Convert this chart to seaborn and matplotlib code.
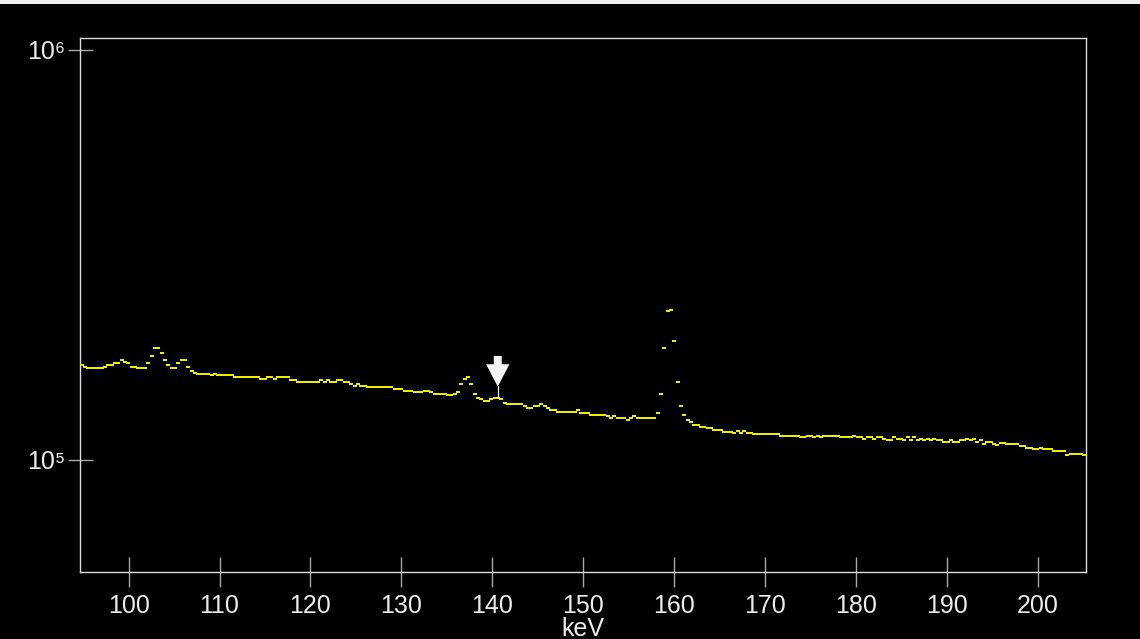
import numpy as np
import pandas as pd
import matplotlib
matplotlib.use("Agg")
import matplotlib.pyplot as plt
import matplotlib.transforms as mtransforms
from matplotlib.patches import Polygon, Rectangle
from matplotlib.ticker import NullLocator
import seaborn as sns

# ---------------- data ----------------
energy_start = 94.83     # keV, centre of first channel
energy_step = 0.3663     # keV per channel

counts = [
    170200, 168600, 167600, 167600, 167600, 167600, 167600, 168600, 170200, 170200,
    171800, 171800, 174800, 173100, 171800, 168600, 168600, 167600, 167600, 167600,
    171800, 179300, 187000, 187000, 182000, 174800, 170200, 167600, 167600, 171800,
    174800, 174800, 168600, 164300, 163000, 161600, 161600, 161600, 161600, 160600,
    161800, 160600, 160600, 160600, 160800, 160800, 159100, 159100, 159100, 159100,
    159100, 159100, 159100, 159100, 157600, 157600, 159100, 159100, 157600, 159100,
    159400, 159400, 159400, 156500, 156500, 155000, 155000, 155000, 155000, 155000,
    155000, 155000, 156500, 155000, 156500, 155000, 155000, 156500, 156500, 155000,
    155000, 153200, 151200, 153000, 151200, 151200, 150200, 150200, 150200, 150200,
    150200, 150200, 150200, 150200, 148500, 148500, 148500, 147100, 147100, 147100,
    146300, 146300, 146300, 147300, 147300, 146300, 144900, 144900, 144900, 144900,
    143600, 143600, 144900, 146500, 152700, 157300, 159400, 152700, 144900, 141200,
    140400, 139000, 139000, 140400, 141200, 141200, 140400, 137700, 136700, 136700,
    136700, 136700, 136700, 135200, 133900, 133900, 135400, 135400, 136700, 135200,
    133900, 132000, 132000, 130500, 130500, 130500, 130500, 130500, 130500, 132000,
    129800, 129800, 129800, 128500, 128500, 128500, 128500, 128500, 127800, 126400,
    127800, 126400, 126400, 126400, 125200, 126600, 128000, 126600, 126600, 126600,
    126600, 126600, 126600, 130000, 144900, 187000, 230900, 232200, 194800, 155000,
    135400, 128500, 125200, 123400, 121300, 121300, 120400, 120400, 119700, 119700,
    118400, 118400, 118400, 117000, 117000, 117000, 116400, 117200, 116400, 117200,
    116400, 116400, 115200, 115200, 115200, 115200, 115200, 115200, 115200, 115200,
    114000, 114000, 114000, 114000, 114000, 114000, 113400, 113400, 114200, 114200,
    113400, 114200, 113400, 114200, 114000, 114000, 114000, 114000, 113400, 113400,
    113400, 113400, 114200, 113400, 113400, 112300, 113400, 113400, 112300, 113400,
    113600, 112300, 111700, 111700, 113600, 112300, 112300, 111700, 113600, 111700,
    113600, 111700, 112500, 111700, 112500, 111700, 112500, 111700, 111700, 110600,
    110600, 111900, 110600, 110600, 111900, 111900, 112500, 111900, 112500, 110600,
    111700, 109400, 110600, 110600, 109400, 108600, 109600, 109600, 109000, 109000,
    109000, 109000, 107800, 107800, 106600, 106600, 106200, 106200, 106900, 106200,
    106200, 106200, 105200, 105200, 105200, 105200, 102500, 103400, 103400, 103400,
    103400, 102500,
]

x_ticks = [100, 110, 120, 130, 140, 150, 160, 170, 180, 190, 200]
y_ticks = [1e5, 1e6]
y_tick_labels = ["10\u2075", "10\u2076"]
x_label = "keV"
x_range = (94.65, 205.3)
y_range = (5.32e4, 1.067e6)

arrow_energy = 140.6     # marked line
arrow_counts = 1.406e5

# ---------------- style ----------------
sns.set_theme(style="dark")
plt.rcParams["font.family"] = ["Liberation Sans", "DejaVu Sans"]

W, H = 1140, 639
fig = plt.figure(figsize=(W / 100, H / 100), dpi=100, facecolor="black")
ax = fig.add_axes([80 / W, 1 - 572 / H, 1006 / W, 534 / H])
ax.set_facecolor("black")

# thin white strip at the very top of the image
fig.patches.append(Rectangle((0, 1 - 4 / H), 1, 4 / H, transform=fig.transFigure,
                             facecolor="#f0f0f0", edgecolor="none", zorder=0))

energies = energy_start + energy_step * np.arange(len(counts))
df = pd.DataFrame({"energy": energies, "counts": counts})

dash = [(-1, -0.6), (1, -0.6), (1, 0.6), (-1, 0.6), (-1, -0.6)]
sns.scatterplot(data=df, x="energy", y="counts", marker=dash, s=6.5,
                color="#eeee00", linewidth=0, ax=ax, legend=False, zorder=3)

ax.set_yscale("log")
ax.set_xlim(*x_range)
ax.set_ylim(*y_range)
ax.set_xticks(x_ticks)
ax.set_xticklabels([str(t) for t in x_ticks])
ax.set_yticks(y_ticks)
ax.set_yticklabels(y_tick_labels)
ax.yaxis.set_minor_locator(NullLocator())
ax.xaxis.set_minor_locator(NullLocator())
ax.grid(False)

for sp in ax.spines.values():
    sp.set_visible(True)
    sp.set_color("#dcdcdc")
    sp.set_linewidth(1.0)

ax.tick_params(axis="x", which="major", bottom=True, direction="inout", length=21.6,
               width=1.0, color="#a8a8a8", labelcolor="#ececec", labelsize=18, pad=5)
ax.tick_params(axis="y", which="major", left=True, direction="inout", length=18,
               width=1.0, color="#a8a8a8", labelcolor="#ececec", labelsize=18, pad=1.5)

ax.set_xlabel(x_label, color="#ececec", fontsize=18, labelpad=-1)
ax.set_ylabel("")

# ---------------- arrow marker ----------------
trans = fig.dpi_scale_trans + mtransforms.ScaledTranslation(arrow_energy, arrow_counts, ax.transData)
px = 1 / 100.0
arrow_poly = [(0, 12.3), (-11.7, 34.7), (-4, 34.7), (-4, 43), (4, 43), (4, 34.7), (11.7, 34.7)]
ax.add_patch(Polygon([(a * px, b * px) for a, b in arrow_poly], closed=True,
                     transform=trans, facecolor="#f4f4f4", edgecolor="none", zorder=4))
ax.plot([0, 0], [0.5 * px, 13 * px], transform=trans, color="#f4f4f4", lw=0.9, zorder=4)

fig.savefig("out.png", dpi=100, facecolor="black")
